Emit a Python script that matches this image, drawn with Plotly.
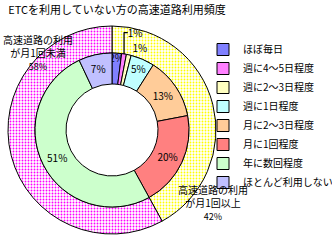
import plotly.graph_objects as go

# Inner ring: frequency categories
categories = ["ほぼ毎日", "週に4～5日程度", "週に2～3日程度", "週に1日程度",
              "月に2～3日程度", "月に1回程度", "年に数回程度", "ほとんど利用しない"]
values = [2, 1, 1, 5, 13, 20, 51, 7]
inner_colors = ["#8080FF", "#FF80FF", "#FFFFC0", "#C0FFFF",
                "#FFCC99", "#FF8080", "#CCFFCC", "#C0C0FF"]

# Outer ring: summary groups
group_labels = ["高速道路の利用が月1回以上", "高速道路の利用が月1回未満"]
group_values = [42, 58]
group_dots = ["#FFFF00", "#FF00FF"]

title_text = "ETCを利用していない方の高速道路利用頻度"

W, H = 332, 244
FONT = "Noto Sans CJK JP"

cx, cy = 112, 130          # centre in px from left/top
r_out, r_mid, r_in = 104, 77, 46

def dom(r):
    return dict(x=[(cx - r) / W, (cx + r) / W],
                y=[(H - cy - r) / H, (H - cy + r) / H])

fig = go.Figure()

fig.add_trace(go.Pie(
    labels=group_labels, values=group_values, sort=False,
    direction="clockwise", rotation=0, hole=r_mid / r_out,
    domain=dom(r_out), textinfo="none", hoverinfo="skip",
    showlegend=False,
    marker=dict(colors=["white", "white"],
                line=dict(color="black", width=1),
                pattern=dict(shape=".", fgcolor=group_dots, bgcolor="white",
                             size=3, solidity=0.3)),
))

text_pos = ["inside", "outside", "outside", "inside",
            "inside", "inside", "inside", "inside"]
fig.add_trace(go.Pie(
    labels=categories, values=values, sort=False,
    direction="clockwise", rotation=0, hole=r_in / r_mid,
    domain=dom(r_mid),
    texttemplate="%{value}%", textposition=text_pos,
    insidetextorientation="horizontal",
    textfont=dict(family=FONT, size=10, color="black"),
    marker=dict(colors=inner_colors, line=dict(color="black", width=1)),
))

fig.update_layout(
    width=W, height=H,
    margin=dict(l=0, r=0, t=0, b=0, autoexpand=False),
    paper_bgcolor="white", plot_bgcolor="white",
    font=dict(family=FONT, size=10, color="black"),
    uniformtext=dict(minsize=10, mode="show"),
    title=dict(text=title_text, x=117 / W, xanchor="center",
               y=1 - 10 / H, yanchor="middle",
               font=dict(family=FONT, size=11, color="black")),
    legend=dict(x=203 / W, xanchor="left", y=1 - 116 / H, yanchor="middle",
                font=dict(family=FONT, size=10, color="black"),
                bgcolor="rgba(0,0,0,0)", traceorder="normal"),
    annotations=[
        dict(text="高速道路の利用<br>が月1回未満<br><span style='font-size:9px'>58%</span>",
             x=38 / W, y=1 - 53 / H, xref="paper", yref="paper",
             xanchor="center", yanchor="middle",
             showarrow=False, align="center",
             font=dict(family=FONT, size=10, color="black")),
        dict(text="高速道路の利用<br>が月1回以上<br><span style='font-size:9px'>42%</span>",
             x=213 / W, y=1 - 202 / H, xref="paper", yref="paper",
             xanchor="center", yanchor="middle",
             showarrow=False, align="center",
             font=dict(family=FONT, size=10, color="black")),
    ],
)

fig.write_html("out.html")
